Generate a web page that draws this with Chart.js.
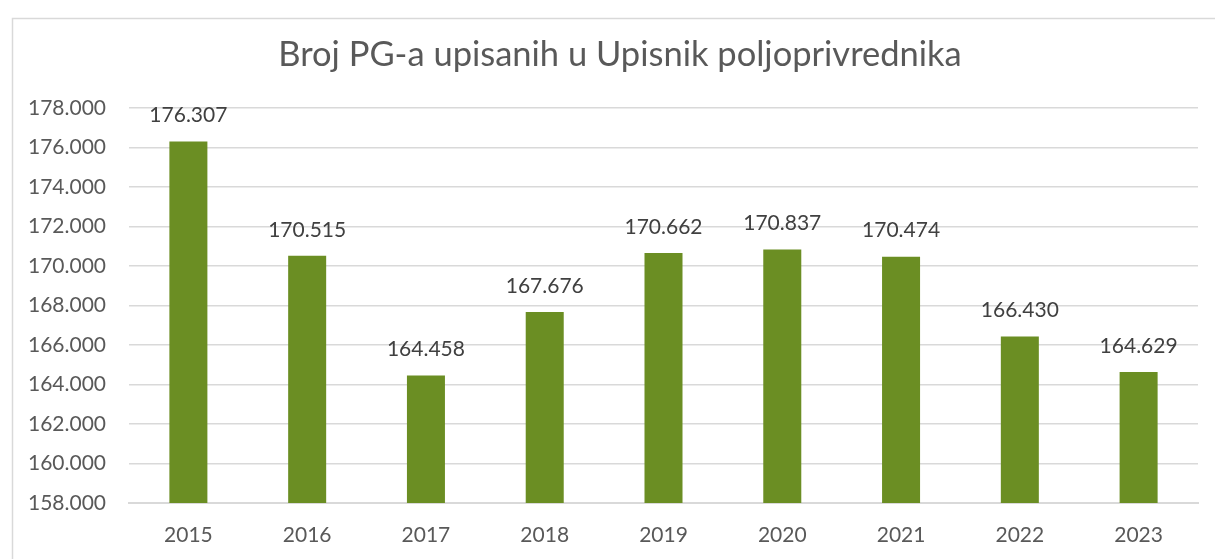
<!DOCTYPE html>
<html>
<head>
<meta charset="utf-8">
<script src="https://cdn.jsdelivr.net/npm/chart.js@4.4.1/dist/chart.umd.min.js"></script>
<style>
html,body{margin:0;padding:0;background:#fff;overflow:hidden;}
#wrap{position:absolute;left:0;top:0;width:1215px;height:559px;}
</style>
</head>
<body>
<div id="wrap"><canvas id="c" width="1215" height="559"></canvas></div>
<script>
const categories = ['2015','2016','2017','2018','2019','2020','2021','2022','2023'];
const values = [176307, 170515, 164458, 167676, 170662, 170837, 170474, 166430, 164629];
const titleText = 'Broj PG-a upisanih u Upisnik poljoprivrednika';
const yMin = 158000, yMax = 178000, yStep = 2000;

const FONT = 'Lato, "Open Sans", sans-serif';
function fmt(v){ return String(Math.round(v)).replace(/\B(?=(\d{3})+(?!\d))/g, '.'); }

const borderPlugin = {
  id:'frame',
  beforeDraw(chart){
    const ctx = chart.ctx;
    ctx.save();
    ctx.fillStyle='#fff';
    ctx.fillRect(0,0,chart.width,chart.height);
    ctx.strokeStyle='#d9d9d9';
    ctx.lineWidth=1.5;
    ctx.strokeRect(12.5,18.5,1400,700);
    ctx.font = '34.5px ' + FONT;
    ctx.fillStyle = '#595959';
    ctx.textAlign = 'center';
    ctx.textBaseline = 'middle';
    ctx.fillText(titleText, 620, 55);
    ctx.restore();
  }
};
const labelPlugin = {
  id:'barLabels',
  afterDatasetsDraw(chart){
    const ctx = chart.ctx;
    const meta = chart.getDatasetMeta(0);
    ctx.save();
    ctx.font = '21px ' + FONT;
    ctx.fillStyle = '#404040';
    ctx.textAlign = 'center';
    ctx.textBaseline = 'middle';
    meta.data.forEach((bar,i)=>{
      ctx.fillText(fmt(chart.data.datasets[0].data[i]), bar.x, bar.y - 26);
    });
    ctx.restore();
  }
};

new Chart(document.getElementById('c'), {
  type:'bar',
  data:{
    labels: categories,
    datasets:[{
      data: values,
      backgroundColor:'#6b8e23',
      borderWidth:0,
      categoryPercentage:1,
      barPercentage:0.32
    }]
  },
  options:{
    responsive:false,
    animation:false,
    layout:{padding:{left:12,right:17,top:108,bottom:0}},
    plugins:{
      legend:{display:false},
      tooltip:{enabled:false},
      title:{display:false}
    },
    scales:{
      x:{
        afterFit(s){ s.height = 56; },
        grid:{display:false,drawTicks:false},
        border:{display:true,color:'#d9d9d9',width:2},
        ticks:{color:'#595959',font:{family:FONT,size:21},padding:20}
      },
      y:{
        min:yMin,max:yMax,
        afterFit(s){ s.width = 117; },
        grid:{color:'#d9d9d9',lineWidth:1.5,drawTicks:false},
        border:{display:false},
        ticks:{stepSize:yStep,color:'#595959',font:{family:FONT,size:21},padding:23,callback:(v)=>fmt(v)}
      }
    }
  },
  plugins:[borderPlugin,labelPlugin]
});
</script>
</body>
</html>
